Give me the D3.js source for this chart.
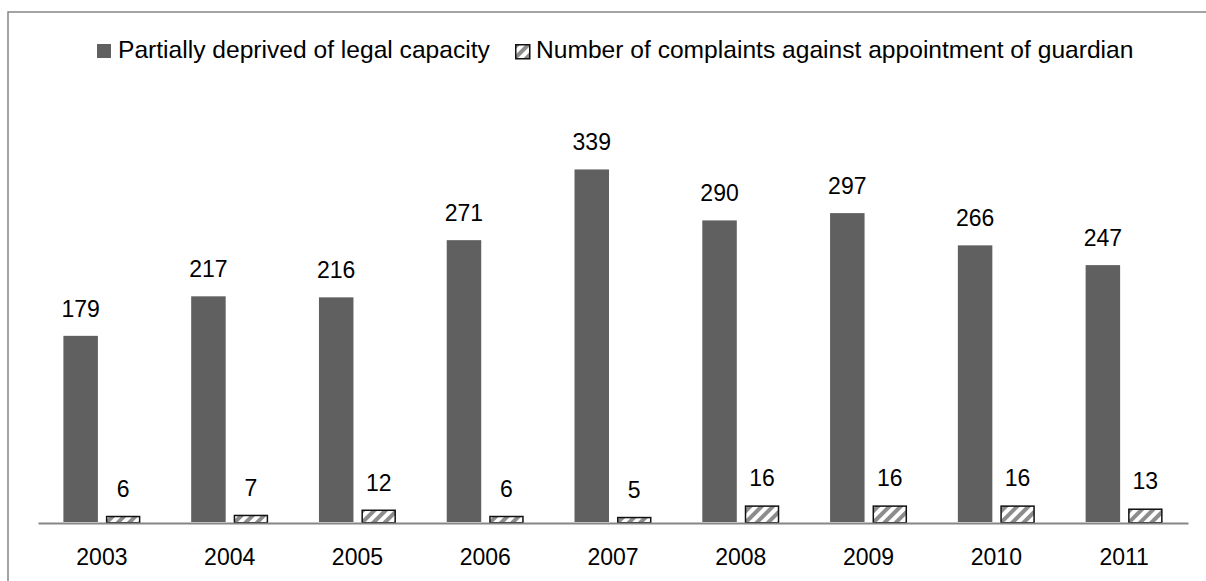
<!DOCTYPE html>
<meta charset="utf-8">
<script src="https://cdn.jsdelivr.net/npm/d3@7"></script>
<style>
    body { margin: 0; background: #fff; }
    svg { display: block; }
    text { font-family: "Liberation Sans", Arial, sans-serif; fill: #000; }
</style>

<svg width="1206" height="581"></svg>

<script>

    var years = ["2003", "2004", "2005", "2006", "2007", "2008", "2009", "2010", "2011"];
    var partiallyDeprived = [179, 217, 216, 271, 339, 290, 297, 266, 247];
    var complaints = [6, 7, 12, 6, 5, 16, 16, 16, 13];
    var seriesNames = ["Partially deprived of legal capacity", "Number of complaints against appointment of guardian"];

    var svg = d3.select("svg");

    // hatch pattern for the second series
    var defs = svg.append("defs");
    defs.append("pattern")
        .attr("id", "hatch")
        .attr("patternUnits", "userSpaceOnUse")
        .attr("width", 8)
        .attr("height", 8)
        .attr("patternTransform", "rotate(45)")
        .call(function (p) {
            p.append("rect").attr("width", 8).attr("height", 8).attr("fill", "#fff");
            p.append("rect").attr("width", 4).attr("height", 8).attr("fill", "#8c8c8c");
        });

    // outer chart frame (runs past the window on the right and bottom)
    svg.append("rect")
        .attr("x", 8).attr("y", 12)
        .attr("width", 1300).attr("height", 700)
        .attr("fill", "none")
        .attr("stroke", "#868686")
        .attr("stroke-width", 1.5);

    var x0 = d3.scaleBand().domain(years).range([38, 1188]);
    var x1 = d3.scaleBand().domain([0, 1]).range([0, x0.bandwidth()])
        .paddingInner(0.188).paddingOuter(0.598);
    var y = d3.scaleLinear().domain([0, 400]).range([522, 106]);

    var rows = years.map(function (yr, i) {
        return {year: yr, values: [partiallyDeprived[i], complaints[i]]};
    });

    var group = svg.append("g").selectAll("g")
        .data(rows)
        .enter().append("g")
        .attr("transform", function (d) {
            return "translate(" + x0(d.year) + ",0)";
        });

    // dark bars
    group.append("rect")
        .attr("x", x1(0))
        .attr("width", x1.bandwidth())
        .attr("y", function (d) { return y(d.values[0]); })
        .attr("height", function (d) { return y(0) - y(d.values[0]); })
        .attr("fill", "#606060");

    // hatched bars
    group.append("rect")
        .attr("x", x1(1) + 0.75)
        .attr("width", x1.bandwidth() - 1.5)
        .attr("y", function (d) { return y(d.values[1]) + 0.75; })
        .attr("height", function (d) { return y(0) - y(d.values[1]); })
        .attr("fill", "url(#hatch)")
        .attr("stroke", "#111")
        .attr("stroke-width", 1.5);

    // value labels
    [0, 1].forEach(function (s) {
        group.append("text")
            .attr("x", x1(s) + x1.bandwidth() / 2)
            .attr("y", function (d) { return y(d.values[s]) - 19; })
            .attr("text-anchor", "middle")
            .style("font-size", "23px")
            .text(function (d) { return d.values[s]; });
    });

    // axis
    var xAxis = svg.append("g")
        .attr("transform", "translate(0,523)")
        .call(d3.axisBottom(x0).tickSize(0).tickPadding(0));
    xAxis.select(".domain").attr("stroke", "#868686").attr("stroke-width", 2);
    xAxis.selectAll("text")
        .attr("dy", 0)
        .attr("y", 42)
        .style("font-size", "23px")
        .style("font-family", "'Liberation Sans', Arial, sans-serif")
        .attr("fill", "#000");

    // legend
    var legendX = [97, 515];
    var legend = svg.append("g").selectAll("g")
        .data(seriesNames)
        .enter().append("g")
        .attr("transform", function (d, i) {
            return "translate(" + legendX[i] + ",44)";
        });
    legend.append("rect")
        .attr("width", 14).attr("height", 14)
        .attr("x", function (d, i) { return i ? 0.75 : 0; })
        .attr("y", function (d, i) { return i ? 0.75 : 0; })
        .attr("fill", function (d, i) { return i ? "url(#hatch)" : "#606060"; })
        .attr("stroke", function (d, i) { return i ? "#111" : "none"; })
        .attr("stroke-width", 1.5);
    legend.append("text")
        .attr("x", 21)
        .attr("y", 14)
        .style("font-size", "24.6px")
        .text(function (d) { return d; });

</script>
